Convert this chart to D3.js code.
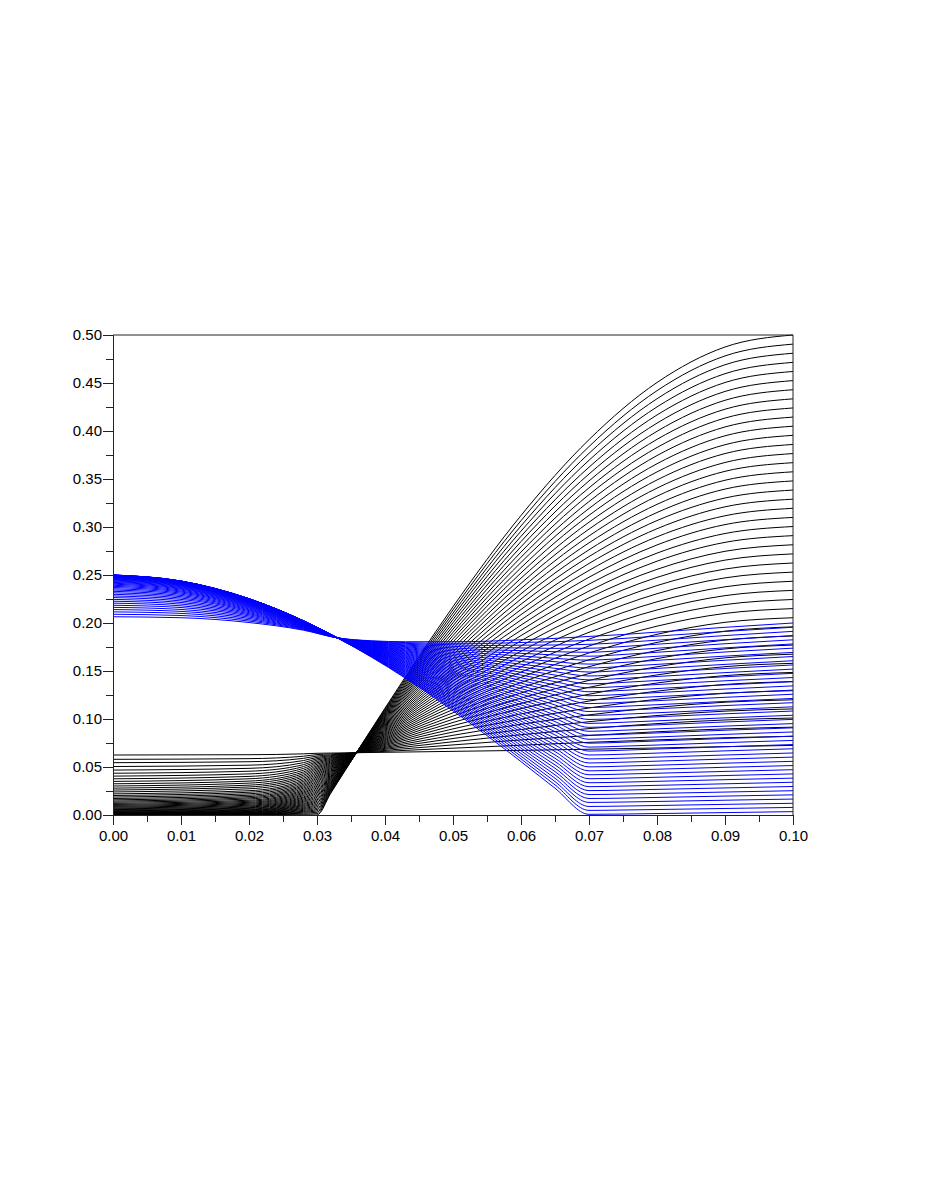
<!DOCTYPE html>
<html>
<head>
<meta charset="utf-8">
<script src="https://cdn.jsdelivr.net/npm/d3@7"></script>
<style>
  html, body { margin: 0; padding: 0; background: #fff; }
  svg { display: block; }
  .axis text { font-family: "Liberation Sans", Arial, Helvetica, sans-serif; font-size: 15px; fill: #000; }
  .axis path, .axis line { stroke: #222; stroke-width: 1; }
</style>
</head>
<body>
<svg id="chart" width="926" height="1199"></svg>
<script>
// ---------- data ----------
const xTickValues = [0, 0.01, 0.02, 0.03, 0.04, 0.05, 0.06, 0.07, 0.08, 0.09, 0.10];
const xTickLabels = ["0.00","0.01","0.02","0.03","0.04","0.05","0.06","0.07","0.08","0.09","0.10"];
const xMinorTicks = [0.005, 0.015, 0.025, 0.035, 0.045, 0.055, 0.065, 0.075, 0.085, 0.095];
const yTickValues = [0, 0.05, 0.10, 0.15, 0.20, 0.25, 0.30, 0.35, 0.40, 0.45, 0.50];
const yTickLabels = ["0.00","0.05","0.10","0.15","0.20","0.25","0.30","0.35","0.40","0.45","0.50"];
const yMinorTicks = [0.025, 0.075, 0.125, 0.175, 0.225, 0.275, 0.325, 0.375, 0.425, 0.475];

// black family: sample abscissae and ordinates of each curve
const blackX = [0, 0.02, 0.028, 0.030, 0.032, 0.034, 0.0358, 0.04, 0.045, 0.05, 0.06, 0.07, 0.08, 0.09, 0.1];
const blackY = [
[0,0,0,0,.0224,.0448,.0649,.1113,.1652,.2170,.3120,.3910,.4505,.4875,.5],
[.00005,.0003,.0009,.0014,.0233,.0452,.0649,.1103,.1630,.2137,.3066,.3838,.4420,.4782,.4905],
[.0001,.0005,.0019,.0029,.0243,.0457,.0649,.1093,.1608,.2103,.3011,.3767,.4336,.4690,.481],
[.0002,.0008,.0029,.0043,.0252,.0461,.0649,.1082,.1586,.2070,.2957,.3695,.4251,.4597,.4715],
[.0003,.0011,.0038,.0057,.0261,.0466,.0649,.1072,.1564,.2036,.2903,.3623,.4167,.4505,.462],
[.0004,.0014,.0048,.0071,.0271,.0470,.0649,.1062,.1542,.2003,.2848,.3552,.4082,.4412,.4525],
[.0006,.0018,.0058,.0086,.0280,.0475,.0649,.1052,.1519,.1969,.2794,.3480,.3997,.4320,.443],
[.0008,.0022,.0068,.0100,.0290,.0479,.0649,.1041,.1497,.1936,.2739,.3408,.3913,.4227,.4335],
[.0011,.0026,.0078,.0114,.0299,.0483,.0649,.1031,.1475,.1902,.2685,.3337,.3828,.4135,.424],
[.0014,.0031,.0089,.0129,.0308,.0488,.0649,.1021,.1453,.1869,.2631,.3265,.3744,.4042,.4145],
[.0018,.0037,.0099,.0143,.0318,.0492,.0649,.1011,.1431,.1835,.2576,.3193,.3659,.3950,.405],
[.0022,.0042,.0110,.0157,.0327,.0497,.0649,.1001,.1409,.1802,.2522,.3122,.3574,.3857,.3955],
[.0026,.0048,.0120,.0171,.0336,.0501,.0649,.0990,.1387,.1768,.2467,.3050,.3490,.3765,.386],
[.0031,.0054,.0132,.0186,.0346,.0505,.0649,.0980,.1365,.1735,.2413,.2978,.3405,.3672,.3765],
[.0037,.0061,.0143,.0200,.0355,.0510,.0649,.0970,.1343,.1701,.2359,.2907,.3321,.3580,.367],
[.0043,.0069,.0154,.0214,.0364,.0514,.0649,.0960,.1321,.1668,.2304,.2835,.3236,.3487,.3575],
[.0049,.0076,.0166,.0229,.0374,.0519,.0649,.0949,.1299,.1634,.2250,.2763,.3151,.3395,.348],
[.0056,.0084,.0178,.0243,.0383,.0523,.0649,.0939,.1276,.1601,.2196,.2692,.3067,.3302,.3385],
[.0064,.0093,.0189,.0257,.0392,.0528,.0649,.0929,.1254,.1567,.2141,.2620,.2982,.3210,.329],
[.0072,.0102,.0202,.0272,.0402,.0532,.0649,.0919,.1232,.1534,.2087,.2548,.2898,.3117,.3195],
[.0081,.0112,.0214,.0286,.0411,.0536,.0649,.0909,.1210,.1500,.2032,.2477,.2813,.3025,.31],
[.0090,.0122,.0227,.0300,.0420,.0541,.0649,.0898,.1188,.1467,.1978,.2405,.2728,.2932,.3005],
[.0100,.0132,.0239,.0314,.0430,.0545,.0649,.0888,.1166,.1433,.1924,.2333,.2644,.2840,.291],
[.0110,.0143,.0252,.0329,.0439,.0550,.0649,.0878,.1144,.1400,.1869,.2262,.2559,.2747,.2815],
[.0121,.0154,.0265,.0343,.0449,.0554,.0649,.0868,.1122,.1366,.1815,.2190,.2475,.2655,.272],
[.0133,.0167,.0279,.0357,.0458,.0559,.0649,.0857,.1100,.1333,.1761,.2118,.2390,.2562,.2625],
[.0145,.0179,.0293,.0372,.0467,.0563,.0649,.0847,.1078,.1299,.1706,.2047,.2305,.2470,.253],
[.0158,.0192,.0306,.0386,.0477,.0567,.0649,.0837,.1056,.1266,.1652,.1975,.2221,.2377,.2435],
[.0172,.0206,.0320,.0400,.0486,.0572,.0649,.0827,.1033,.1232,.1597,.1903,.2136,.2285,.234],
[.0187,.0221,.0335,.0414,.0495,.0576,.0649,.0817,.1011,.1199,.1543,.1832,.2052,.2192,.2245],
[.0203,.0237,.0350,.0429,.0505,.0581,.0649,.0806,.0989,.1165,.1489,.1760,.1967,.2100,.215],
[.0220,.0253,.0365,.0443,.0514,.0585,.0649,.0796,.0967,.1132,.1434,.1688,.1882,.2007,.2055],
[.0240,.0273,.0381,.0457,.0523,.0590,.0649,.0786,.0945,.1098,.1380,.1617,.1798,.1915,.196],
[.0260,.0292,.0398,.0472,.0533,.0594,.0649,.0776,.0923,.1065,.1325,.1545,.1713,.1822,.1865],
[.0280,.0311,.0414,.0486,.0542,.0598,.0649,.0765,.0901,.1031,.1271,.1473,.1629,.1730,.177],
[.0302,.0332,.0431,.0500,.0551,.0603,.0649,.0755,.0879,.0998,.1217,.1402,.1544,.1637,.1675],
[.0325,.0353,.0448,.0514,.0561,.0607,.0649,.0745,.0857,.0964,.1162,.1330,.1459,.1545,.158],
[.0350,.0377,.0466,.0529,.0570,.0612,.0649,.0735,.0835,.0931,.1108,.1258,.1375,.1452,.1485],
[.0377,.0402,.0485,.0543,.0580,.0616,.0649,.0725,.0813,.0897,.1053,.1187,.1290,.1360,.139],
[.0405,.0428,.0504,.0557,.0589,.0620,.0649,.0714,.0790,.0864,.0999,.1115,.1206,.1267,.1295],
[.0435,.0456,.0524,.0572,.0598,.0625,.0649,.0704,.0768,.0830,.0945,.1043,.1121,.1175,.12],
[.0468,.0486,.0545,.0586,.0608,.0629,.0649,.0694,.0746,.0797,.0890,.0972,.1036,.1082,.1105],
[.0505,.0519,.0567,.0600,.0617,.0634,.0649,.0684,.0724,.0763,.0836,.0900,.0952,.0990,.101],
[.0545,.0555,.0590,.0614,.0626,.0638,.0649,.0673,.0702,.0730,.0782,.0828,.0867,.0897,.0915],
[.0580,.0587,.0612,.0629,.0636,.0643,.0649,.0663,.0680,.0696,.0727,.0757,.0783,.0805,.082],
[.0625,.0628,.0637,.0643,.0645,.0647,.0649,.0653,.0658,.0663,.0673,.0685,.0698,.0712,.0725]
];

// blue family
const blueX = [0, 0.01, 0.02, 0.028, 0.033, 0.038, 0.043, 0.05, 0.055, 0.06, 0.065, 0.07, 0.075, 0.08, 0.09, 0.1];
const blueY = [
[.25,.2437,.2253,.2023,.1845,.1645,.1425,.1085,.0827,.0556,.0279,.0007,.0010,.0015,.0025,.0035],
[.25,.2437,.2253,.2023,.1845,.1649,.1433,.1101,.0849,.0584,.0314,.0048,.0052,.0057,.0068,.0079],
[.25,.2437,.2253,.2023,.1845,.1653,.1442,.1117,.0871,.0612,.0348,.0089,.0093,.0099,.0111,.0122],
[.25,.2437,.2253,.2023,.1845,.1656,.1450,.1133,.0893,.0641,.0383,.0131,.0135,.0141,.0154,.0166],
[.2499,.2436,.2253,.2023,.1845,.1660,.1459,.1149,.0914,.0669,.0418,.0172,.0176,.0183,.0197,.0210],
[.2499,.2436,.2252,.2023,.1845,.1664,.1467,.1165,.0936,.0697,.0452,.0213,.0218,.0225,.0239,.0253],
[.2498,.2435,.2252,.2023,.1845,.1668,.1476,.1181,.0958,.0725,.0487,.0254,.0259,.0267,.0282,.0297],
[.2497,.2435,.2252,.2022,.1845,.1671,.1484,.1197,.0980,.0753,.0522,.0295,.0301,.0309,.0325,.0341],
[.2496,.2434,.2251,.2022,.1845,.1675,.1493,.1213,.1002,.0782,.0557,.0336,.0342,.0351,.0368,.0384],
[.2495,.2432,.2250,.2022,.1845,.1679,.1501,.1229,.1024,.0810,.0591,.0378,.0384,.0393,.0411,.0428],
[.2493,.2431,.2249,.2021,.1845,.1683,.1509,.1245,.1045,.0838,.0626,.0419,.0426,.0435,.0454,.0472],
[.2491,.2429,.2248,.2021,.1845,.1687,.1518,.1261,.1067,.0866,.0661,.0460,.0467,.0477,.0497,.0515],
[.2489,.2427,.2246,.2020,.1845,.1690,.1526,.1277,.1089,.0894,.0695,.0501,.0509,.0519,.0540,.0559],
[.2486,.2424,.2245,.2020,.1845,.1694,.1535,.1293,.1111,.0923,.0730,.0542,.0550,.0561,.0583,.0603],
[.2482,.2422,.2243,.2019,.1845,.1698,.1543,.1309,.1133,.0951,.0765,.0584,.0592,.0603,.0625,.0646],
[.2479,.2418,.2241,.2018,.1845,.1702,.1552,.1325,.1155,.0979,.0799,.0625,.0633,.0645,.0668,.0690],
[.2475,.2415,.2239,.2017,.1845,.1705,.1560,.1341,.1176,.1007,.0834,.0666,.0675,.0687,.0711,.0734],
[.2470,.2411,.2236,.2016,.1845,.1709,.1568,.1357,.1198,.1035,.0869,.0707,.0717,.0729,.0754,.0777],
[.2465,.2406,.2233,.2015,.1845,.1713,.1577,.1373,.1220,.1064,.0903,.0748,.0758,.0771,.0797,.0821],
[.2459,.2401,.2230,.2014,.1845,.1717,.1585,.1389,.1242,.1092,.0938,.0789,.0800,.0813,.0840,.0865],
[.2453,.2396,.2226,.2012,.1845,.1721,.1594,.1405,.1264,.1120,.0973,.0831,.0841,.0855,.0883,.0908],
[.2447,.2390,.2223,.2011,.1845,.1724,.1602,.1421,.1286,.1148,.1007,.0872,.0883,.0897,.0926,.0952],
[.2439,.2384,.2218,.2009,.1845,.1728,.1611,.1437,.1307,.1176,.1042,.0913,.0924,.0939,.0969,.0996],
[.2431,.2377,.2214,.2008,.1845,.1732,.1619,.1453,.1329,.1205,.1077,.0954,.0966,.0981,.1012,.1039],
[.2423,.2369,.2209,.2006,.1845,.1736,.1628,.1469,.1351,.1233,.1112,.0995,.1007,.1023,.1054,.1083],
[.2414,.2361,.2204,.2004,.1845,.1739,.1636,.1485,.1373,.1261,.1146,.1037,.1049,.1065,.1097,.1127],
[.2404,.2353,.2198,.2001,.1845,.1743,.1644,.1501,.1395,.1289,.1181,.1078,.1091,.1107,.1140,.1170],
[.2393,.2343,.2192,.1999,.1845,.1747,.1653,.1517,.1417,.1317,.1216,.1119,.1132,.1149,.1183,.1214],
[.2382,.2333,.2186,.1996,.1845,.1751,.1661,.1533,.1439,.1346,.1250,.1160,.1174,.1191,.1226,.1258],
[.2370,.2323,.2179,.1994,.1845,.1755,.1670,.1549,.1460,.1374,.1285,.1201,.1215,.1233,.1269,.1301],
[.2357,.2312,.2172,.1991,.1845,.1758,.1678,.1565,.1482,.1402,.1320,.1242,.1257,.1275,.1312,.1345],
[.2344,.2300,.2164,.1988,.1845,.1762,.1687,.1581,.1504,.1430,.1354,.1284,.1298,.1317,.1355,.1389],
[.2330,.2287,.2156,.1985,.1845,.1766,.1695,.1597,.1526,.1458,.1389,.1325,.1340,.1359,.1398,.1432],
[.2315,.2274,.2147,.1981,.1845,.1770,.1704,.1613,.1548,.1487,.1424,.1366,.1381,.1401,.1440,.1476],
[.2299,.2260,.2138,.1978,.1845,.1773,.1712,.1629,.1570,.1515,.1458,.1407,.1423,.1443,.1483,.1520],
[.2282,.2246,.2129,.1974,.1845,.1777,.1720,.1645,.1591,.1543,.1493,.1448,.1465,.1485,.1526,.1563],
[.2265,.2230,.2119,.1970,.1845,.1781,.1729,.1661,.1613,.1571,.1528,.1489,.1506,.1527,.1569,.1607],
[.2246,.2214,.2108,.1966,.1845,.1785,.1737,.1677,.1635,.1599,.1563,.1531,.1548,.1569,.1612,.1651],
[.2227,.2197,.2097,.1961,.1845,.1789,.1746,.1693,.1657,.1628,.1597,.1572,.1589,.1611,.1655,.1694],
[.2207,.2179,.2086,.1957,.1845,.1792,.1754,.1709,.1679,.1656,.1632,.1613,.1631,.1653,.1698,.1738],
[.2185,.2161,.2074,.1952,.1845,.1796,.1763,.1725,.1701,.1684,.1667,.1654,.1672,.1695,.1741,.1782],
[.2163,.2141,.2061,.1947,.1845,.1800,.1771,.1741,.1722,.1712,.1701,.1695,.1714,.1737,.1784,.1825],
[.2140,.2121,.2048,.1942,.1845,.1804,.1780,.1757,.1744,.1740,.1736,.1737,.1755,.1779,.1826,.1869],
[.2116,.2100,.2034,.1937,.1845,.1807,.1788,.1773,.1766,.1769,.1771,.1778,.1797,.1821,.1869,.1913],
[.2091,.2078,.2020,.1931,.1845,.1811,.1796,.1789,.1788,.1797,.1805,.1819,.1839,.1863,.1912,.1956],
[.2065,.2055,.2005,.1925,.1845,.1815,.1805,.1805,.1810,.1825,.1840,.1860,.1880,.1905,.1955,.2000]
];

// ---------- layout ----------
const svg = d3.select("#chart");
svg.append("rect").attr("width", 926).attr("height", 1199).attr("fill", "#fff");

const x = d3.scaleLinear().domain([0, 0.1]).range([113, 793]);
const y = d3.scaleLinear().domain([0, 0.5]).range([815, 335]);

const line = d3.line()
  .x(d => x(d[0]))
  .y(d => y(d[1]))
  .curve(d3.curveMonotoneX);

const plot = svg.append("g");

plot.selectAll("path.black")
  .data(blackY)
  .enter().append("path")
  .attr("class", "black")
  .attr("fill", "none")
  .attr("stroke", "#000")
  .attr("stroke-width", 1)
  .attr("d", row => line(row.map((v, k) => [blackX[k], v])));

plot.selectAll("path.blue")
  .data(blueY)
  .enter().append("path")
  .attr("class", "blue")
  .attr("fill", "none")
  .attr("stroke", "#0000ff")
  .attr("stroke-width", 1)
  .attr("d", row => line(row.map((v, k) => [blueX[k], v])));

// frame (top and right)
svg.append("line").attr("x1", x(0)).attr("x2", x(0.1)).attr("y1", y(0.5)).attr("y2", y(0.5))
  .attr("stroke", "#222").attr("stroke-width", 1);
svg.append("line").attr("x1", x(0.1)).attr("x2", x(0.1)).attr("y1", y(0.5)).attr("y2", y(0))
  .attr("stroke", "#222").attr("stroke-width", 1);

// axes
const xAxis = d3.axisBottom(x).tickValues(xTickValues)
  .tickFormat((d, i) => xTickLabels[i]).tickSize(10).tickSizeOuter(0).tickPadding(5);
const xMinor = d3.axisBottom(x).tickValues(xMinorTicks).tickFormat("").tickSize(7).tickSizeOuter(0);
const yAxis = d3.axisLeft(y).tickValues(yTickValues)
  .tickFormat((d, i) => yTickLabels[i]).tickSize(10).tickSizeOuter(0).tickPadding(1);
const yMinor = d3.axisLeft(y).tickValues(yMinorTicks).tickFormat("").tickSize(7).tickSizeOuter(0);

svg.append("g").attr("class", "axis").attr("transform", `translate(0,${y(0)})`).call(xMinor);
svg.append("g").attr("class", "axis").attr("transform", `translate(0,${y(0)})`).call(xAxis);
svg.append("g").attr("class", "axis").attr("transform", `translate(${x(0)},0)`).call(yMinor);
svg.append("g").attr("class", "axis").attr("transform", `translate(${x(0)},0)`).call(yAxis);
</script>
</body>
</html>
